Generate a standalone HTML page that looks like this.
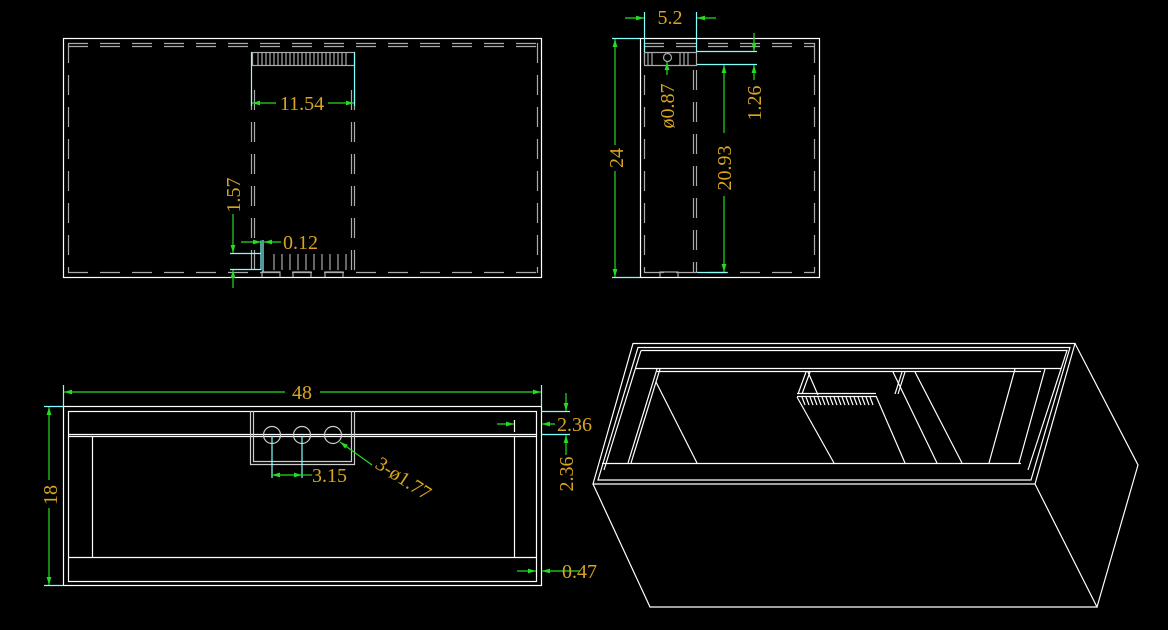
<!DOCTYPE html>
<html><head><meta charset="utf-8"><style>
html,body{margin:0;padding:0;background:#000;}
svg{display:block}
text{font-family:"Liberation Serif",serif;fill:#d9a521;font-size:20px}
</style></head><body>
<svg width="1168" height="630" viewBox="0 0 1168 630" xmlns="http://www.w3.org/2000/svg">
<defs>
<marker id="a" viewBox="0 0 10 6" refX="10" refY="3" markerWidth="8" markerHeight="4" orient="auto-start-reverse"><path d="M0,0L10,3L0,6z" fill="#22dd22"/></marker>
</defs>
<g fill="none" stroke-width="1.2">
<rect x="63.5" y="38.5" width="478" height="239" stroke="#fff"/>
<g stroke="#aaa" stroke-dasharray="20,12">
<line x1="68" y1="43.5" x2="537" y2="43.5"/>
<line x1="68" y1="46.5" x2="537" y2="46.5"/>
<line x1="68" y1="272.5" x2="537" y2="272.5"/>
<line x1="68.5" y1="43" x2="68.5" y2="273"/>
<line x1="537.5" y1="43" x2="537.5" y2="273"/>
<line x1="251.5" y1="90" x2="251.5" y2="273"/>
<line x1="254.5" y1="90" x2="254.5" y2="273"/>
<line x1="351.5" y1="90" x2="351.5" y2="273"/>
<line x1="354.5" y1="90" x2="354.5" y2="273"/>
</g>
<g stroke="#aaa">
<rect x="252.5" y="52.5" width="102" height="13"/>
<path d="M258 52v13M262 52v13M266 52v13M270 52v13M274 52v13M278 52v13M282 52v13M286 52v13M290 52v13M294 52v13M298 52v13M302 52v13M306 52v13M310 52v13M314 52v13M318 52v13M322 52v13M326 52v13M330 52v13M334 52v13M338 52v13M342 52v13M346 52v13"/>
<path d="M274 254v16M282 254v16M290 254v16M298 254v16M306 254v16M314 254v16M322 254v16M330 254v16M338 254v16M346 254v16"/>
<path d="M262 277v-5h18v5M293 277v-5h18v5M325 277v-5h18v5"/>
</g>
<g stroke="#8ff">
<line x1="251.5" y1="52" x2="251.5" y2="106"/>
<line x1="354.5" y1="52" x2="354.5" y2="106"/>
<path d="M230 253.5h31v-13M230 269.5h31v-29M263 240v32"/>
</g>
<g stroke="#22dd22">
<line x1="252" y1="103" x2="276" y2="103" marker-start="url(#a)"/>
<line x1="328" y1="103" x2="354" y2="103" marker-end="url(#a)"/>
<line x1="233" y1="214" x2="233" y2="253" marker-end="url(#a)"/>
<line x1="233" y1="288" x2="233" y2="270" marker-end="url(#a)"/>
<line x1="241" y1="242" x2="261" y2="242" marker-end="url(#a)"/>
<line x1="281" y1="242" x2="264" y2="242" marker-end="url(#a)"/>
</g>
<rect x="640.5" y="38.5" width="179" height="239" stroke="#fff"/>
<g stroke="#aaa" stroke-dasharray="20,12">
<line x1="644" y1="43.5" x2="815" y2="43.5"/>
<line x1="644" y1="46.5" x2="815" y2="46.5"/>
<line x1="644.5" y1="43" x2="644.5" y2="273"/>
<line x1="814.5" y1="43" x2="814.5" y2="273"/>
<line x1="693.5" y1="70" x2="693.5" y2="273"/>
<line x1="696.5" y1="70" x2="696.5" y2="273"/>
<line x1="644" y1="272.5" x2="815" y2="272.5"/>
</g>
<g stroke="#aaa">
<path d="M644.5 52.5h52v13h-52zM648 52v13M652 52v13M680 52v13M684 52v13M688 52v13"/>
<circle cx="667.5" cy="57.5" r="4"/>
<path d="M660 277v-5h18v5"/>
</g>
<g stroke="#8ff">
<line x1="644.5" y1="12" x2="644.5" y2="52"/>
<line x1="696.5" y1="12" x2="696.5" y2="52"/>
<line x1="697" y1="51.5" x2="757" y2="51.5"/>
<line x1="697" y1="64.5" x2="757" y2="64.5"/>
<line x1="612" y1="38.5" x2="640" y2="38.5"/>
<line x1="612" y1="277.5" x2="640" y2="277.5"/>
<line x1="697" y1="272.5" x2="727" y2="272.5"/>
</g>
<g stroke="#22dd22">
<line x1="625" y1="18" x2="644" y2="18" marker-end="url(#a)"/>
<line x1="716" y1="18" x2="697" y2="18" marker-end="url(#a)"/>
<line x1="615" y1="145" x2="615" y2="39" marker-end="url(#a)"/>
<line x1="615" y1="171" x2="615" y2="277" marker-end="url(#a)"/>
<line x1="724" y1="133" x2="724" y2="65" marker-end="url(#a)"/>
<line x1="724" y1="196" x2="724" y2="272" marker-end="url(#a)"/>
<line x1="754" y1="33" x2="754" y2="51" marker-end="url(#a)"/>
<line x1="754" y1="80" x2="754" y2="65" marker-end="url(#a)"/>
<line x1="667" y1="75" x2="667" y2="62" marker-end="url(#a)"/>
</g>
<g stroke="#fff">
<rect x="63.5" y="406.5" width="478" height="179"/>
<rect x="68.5" y="411.5" width="468" height="170"/>
<line x1="68" y1="434.5" x2="537" y2="434.5"/>
<line x1="68" y1="436.5" x2="537" y2="436.5"/>
<line x1="92.5" y1="437" x2="92.5" y2="557"/>
<line x1="514.5" y1="437" x2="514.5" y2="557"/>
<line x1="68" y1="557.5" x2="537" y2="557.5"/>
</g>
<g stroke="#ccc">
<path d="M250.5 411v53.5h104V411M253.5 411v50.5h98V411"/>
<circle cx="272" cy="435" r="8.5"/>
<circle cx="302" cy="435" r="8.5"/>
<circle cx="333" cy="435" r="8.5"/>
</g>
<g stroke="#8ff">
<line x1="272" y1="436" x2="272" y2="478"/>
<line x1="302" y1="436" x2="302" y2="478"/>
<line x1="63.5" y1="385" x2="63.5" y2="406"/>
<line x1="541.5" y1="385" x2="541.5" y2="406"/>
<line x1="44" y1="406.5" x2="63" y2="406.5"/>
<line x1="44" y1="585.5" x2="63" y2="585.5"/>
<line x1="541" y1="411.5" x2="570" y2="411.5"/>
<line x1="541" y1="434.5" x2="570" y2="434.5"/>
</g>
<g stroke="#22dd22">
<line x1="285" y1="392" x2="64" y2="392" marker-end="url(#a)"/>
<line x1="320" y1="392" x2="541" y2="392" marker-end="url(#a)"/>
<line x1="49" y1="480" x2="49" y2="407" marker-end="url(#a)"/>
<line x1="49" y1="508" x2="49" y2="585" marker-end="url(#a)"/>
<line x1="566" y1="393" x2="566" y2="411" marker-end="url(#a)"/>
<line x1="566" y1="455" x2="566" y2="435" marker-end="url(#a)"/>
<line x1="555" y1="424" x2="542" y2="424" marker-end="url(#a)"/>
<line x1="497" y1="424" x2="514" y2="424" marker-end="url(#a)"/>
<line x1="514.5" y1="420" x2="514.5" y2="432" stroke="#fff"/>
<line x1="272" y1="475" x2="302" y2="475" marker-start="url(#a)" marker-end="url(#a)"/>
<line x1="302" y1="475" x2="312" y2="475"/>
<line x1="372" y1="465" x2="340" y2="442" marker-end="url(#a)"/>
<line x1="580" y1="571" x2="542" y2="571" marker-end="url(#a)"/>
<line x1="517" y1="571" x2="536" y2="571" marker-end="url(#a)"/>
</g>
<g stroke="#fff">
<path d="M593 484L633 343.5H1075L1035 484Z"/>
<path d="M593 484L650 607H1097L1035 484"/>
<path d="M1075 343.5L1138 465L1097 607"/>
<path d="M638 347.5H1070L1031 480H598Z"/>
<path d="M641 350.5H1067L1028 470"/>
<path d="M641 350.5L604 470"/>
<line x1="636" y1="368.5" x2="1061" y2="368.5"/>
<line x1="657" y1="371.5" x2="1041" y2="371.5"/>
<line x1="602" y1="463.5" x2="1021" y2="463.5"/>
<line x1="657" y1="369" x2="628" y2="463"/>
<line x1="660" y1="369" x2="631" y2="463"/>
<line x1="656" y1="382" x2="697" y2="463"/>
<line x1="1015" y1="369" x2="989" y2="463"/>
<line x1="1045" y1="369" x2="1019" y2="463"/>
<line x1="808" y1="372" x2="818" y2="395"/>
<line x1="797" y1="397" x2="834" y2="463"/>
<line x1="876" y1="396" x2="905" y2="463"/>
<line x1="893" y1="372" x2="937" y2="463"/>
<line x1="915" y1="372" x2="962" y2="463"/>
<path d="M797 393.5H876M797 396.5H876"/>
<path d="M806 372l-8 22M810 372l-8 22M902 372l-7 22M905 372l-7 22"/>
<path d="M802 397l3 8M806 397l3 8M810 397l3 8M814 397l3 8M818 397l3 8M822 397l3 8M826 397l3 8M830 397l3 8M834 397l3 8M838 397l3 8M842 397l3 8M846 397l3 8M850 397l3 8M854 397l3 8M858 397l3 8M862 397l3 8M866 397l3 8M870 397l3 8"/>
</g>
</g>
<text x="302" y="110" text-anchor="middle">11.54</text>
<text x="283" y="249">0.12</text>
<text transform="translate(240,195) rotate(-90)" text-anchor="middle">1.57</text>
<text x="670" y="24" text-anchor="middle">5.2</text>
<text transform="translate(623,158) rotate(-90)" text-anchor="middle">24</text>
<text transform="translate(674,106) rotate(-90)" text-anchor="middle">ø0.87</text>
<text transform="translate(731,168) rotate(-90)" text-anchor="middle">20.93</text>
<text transform="translate(761,103) rotate(-90)" text-anchor="middle">1.26</text>
<text x="302" y="399" text-anchor="middle">48</text>
<text transform="translate(57,495) rotate(-90)" text-anchor="middle">18</text>
<text x="557" y="431">2.36</text>
<text transform="translate(573,474) rotate(-90)" text-anchor="middle">2.36</text>
<text x="312" y="482">3.15</text>
<text transform="translate(374,467) rotate(33)">3-ø1.77</text>
<text x="562" y="578">0.47</text>
</svg>
</body></html>
